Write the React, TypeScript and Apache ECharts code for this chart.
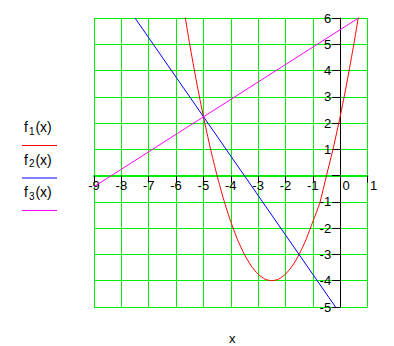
import React, { useEffect, useRef } from "react";
import * as echarts from "echarts";

const xTicks = [-9, -8, -7, -6, -5, -4, -3, -2, -1, 0, 1];
const yTicks = [-5, -4, -3, -2, -1, 0, 1, 2, 3, 4, 5, 6];

// f1: parabola, points
const f1X = [-5.75, -5.5, -5.25, -5, -4.75, -4.5, -4.25, -4, -3.75, -3.5, -3.25, -3, -2.75, -2.5, -2.25, -2, -1.75, -1.5, -1.25, -1, -0.75, -0.5, -0.25, 0, 0.25, 0.5, 0.75];
const f1Y = [6.56, 5, 3.56, 2.25, 1.06, 0, -0.94, -1.75, -2.44, -3, -3.44, -3.75, -3.94, -4, -3.94, -3.75, -3.44, -3, -2.44, -1.75, -1.06, 0, 1.06, 2.25, 3.56, 5, 6.56];
// f2: blue line
const f2X = [-7.5, -0.17];
const f2Y = [6, -5];
// f3: magenta line
const f3X = [-9, 0.67];
const f3Y = [-0.42, 6];

const legendNames = ["1", "2", "3"];
const colors = ["#ff0000", "#0000ff", "#ff00ff"];

const FONT = "'Liberation Sans', Arial, sans-serif";

const GRID_LEFT = 94;
const GRID_TOP = 18;
const GRID_W = 273.5;
const GRID_H = 289;

export default function App() {
  const ref = useRef<HTMLDivElement>(null);
  useEffect(() => {
    const chart = echarts.init(ref.current!, undefined, { renderer: "svg" });
    const pair = (xs: number[], ys: number[]) => xs.map((x, i) => [x, ys[i]]);
    const xMin = xTicks[0];
    const xMax = xTicks[xTicks.length - 1];
    const yMin = yTicks[0];
    const yMax = yTicks[yTicks.length - 1];
    // shift axes so they cross at zero
    const yAxisOffset = -((0 - xMin) / (xMax - xMin)) * GRID_W;
    const xAxisOffset = -((0 - yMin) / (yMax - yMin)) * GRID_H;

    const legendGraphics: any[] = [];
    legendNames.forEach((n, i) => {
      const cy = 127 + i * 32.5;
      legendGraphics.push({
        type: "text",
        left: 24,
        top: cy - 9,
        style: {
          text: `{a|f}{b|${n}}{a|(x)}`,
          fill: "#000",
          rich: {
            a: { fontSize: 14, lineHeight: 18, fontFamily: FONT, fill: "#000" },
            b: { fontSize: 10, lineHeight: 10, padding: [8, 1, 0, 1], fontFamily: FONT, fill: "#000" },
          },
        },
      });
      legendGraphics.push({
        type: "line",
        shape: { x1: 22, y1: cy + 18.5, x2: 57, y2: cy + 18.5 },
        style: { stroke: colors[i], lineWidth: 1 },
      });
    });
    chart.setOption({
      animation: false,
      backgroundColor: "#ffffff",
      grid: { left: GRID_LEFT, top: GRID_TOP, width: GRID_W, height: GRID_H, containLabel: false },
      xAxis: {
        type: "value",
        min: xMin,
        max: xMax,
        interval: 1,
        position: "bottom",
        offset: xAxisOffset,
        axisLine: { onZero: false, lineStyle: { color: "#00ee00", width: 2 } },
        axisTick: { show: true, length: 7, lineStyle: { color: "#000" } },
        axisLabel: {
          margin: 3,
          showMinLabel: true,
          showMaxLabel: true,
          align: "center",
          fontSize: 13,
          fontFamily: FONT,
          color: "#000",
          formatter: (v: number) => (v < 0 ? `{n|${v}}` : `{p|${v}}`),
          rich: {
            n: { fontSize: 13, fontFamily: FONT, color: "#000" },
            p: { fontSize: 13, fontFamily: FONT, color: "#000", padding: [0, 0, 0, 12] },
          },
        },
        splitLine: { show: true, lineStyle: { color: "#00ee00", width: 1 } },
      },
      yAxis: {
        type: "value",
        min: yMin,
        max: yMax,
        interval: 1,
        position: "left",
        offset: yAxisOffset,
        axisLine: { onZero: false, lineStyle: { color: "#000", width: 1 } },
        axisTick: { show: true, length: 8, lineStyle: { color: "#000" } },
        axisLabel: {
          margin: 9,
          showMinLabel: true,
          showMaxLabel: true,
          fontSize: 13,
          fontFamily: FONT,
          color: "#000",
          formatter: (v: number) => (v === 0 ? "" : String(v)),
        },
        splitLine: { show: true, lineStyle: { color: "#00ee00", width: 1 } },
      },
      graphic: [
        ...legendGraphics,
        {
          type: "text",
          left: 229,
          top: 332,
          style: { text: "x", fontSize: 13, fontFamily: FONT, fill: "#000" },
        },
      ],
      series: [
        {
          type: "line",
          data: pair(f1X, f1Y),
          showSymbol: false,
          smooth: 0.2,
          clip: true,
          lineStyle: { color: colors[0], width: 1 },
          z: 3,
        },
        {
          type: "line",
          data: pair(f2X, f2Y),
          showSymbol: false,
          clip: true,
          lineStyle: { color: colors[1], width: 1 },
          z: 3,
        },
        {
          type: "line",
          data: pair(f3X, f3Y),
          showSymbol: false,
          clip: true,
          lineStyle: { color: colors[2], width: 1 },
          z: 3,
        },
      ],
    });
    return () => chart.dispose();
  }, []);
  return (
    <div
      ref={ref}
      style={{ position: "absolute", left: 0, top: 0, width: 394, height: 346, background: "#fff" }}
    />
  );
}
